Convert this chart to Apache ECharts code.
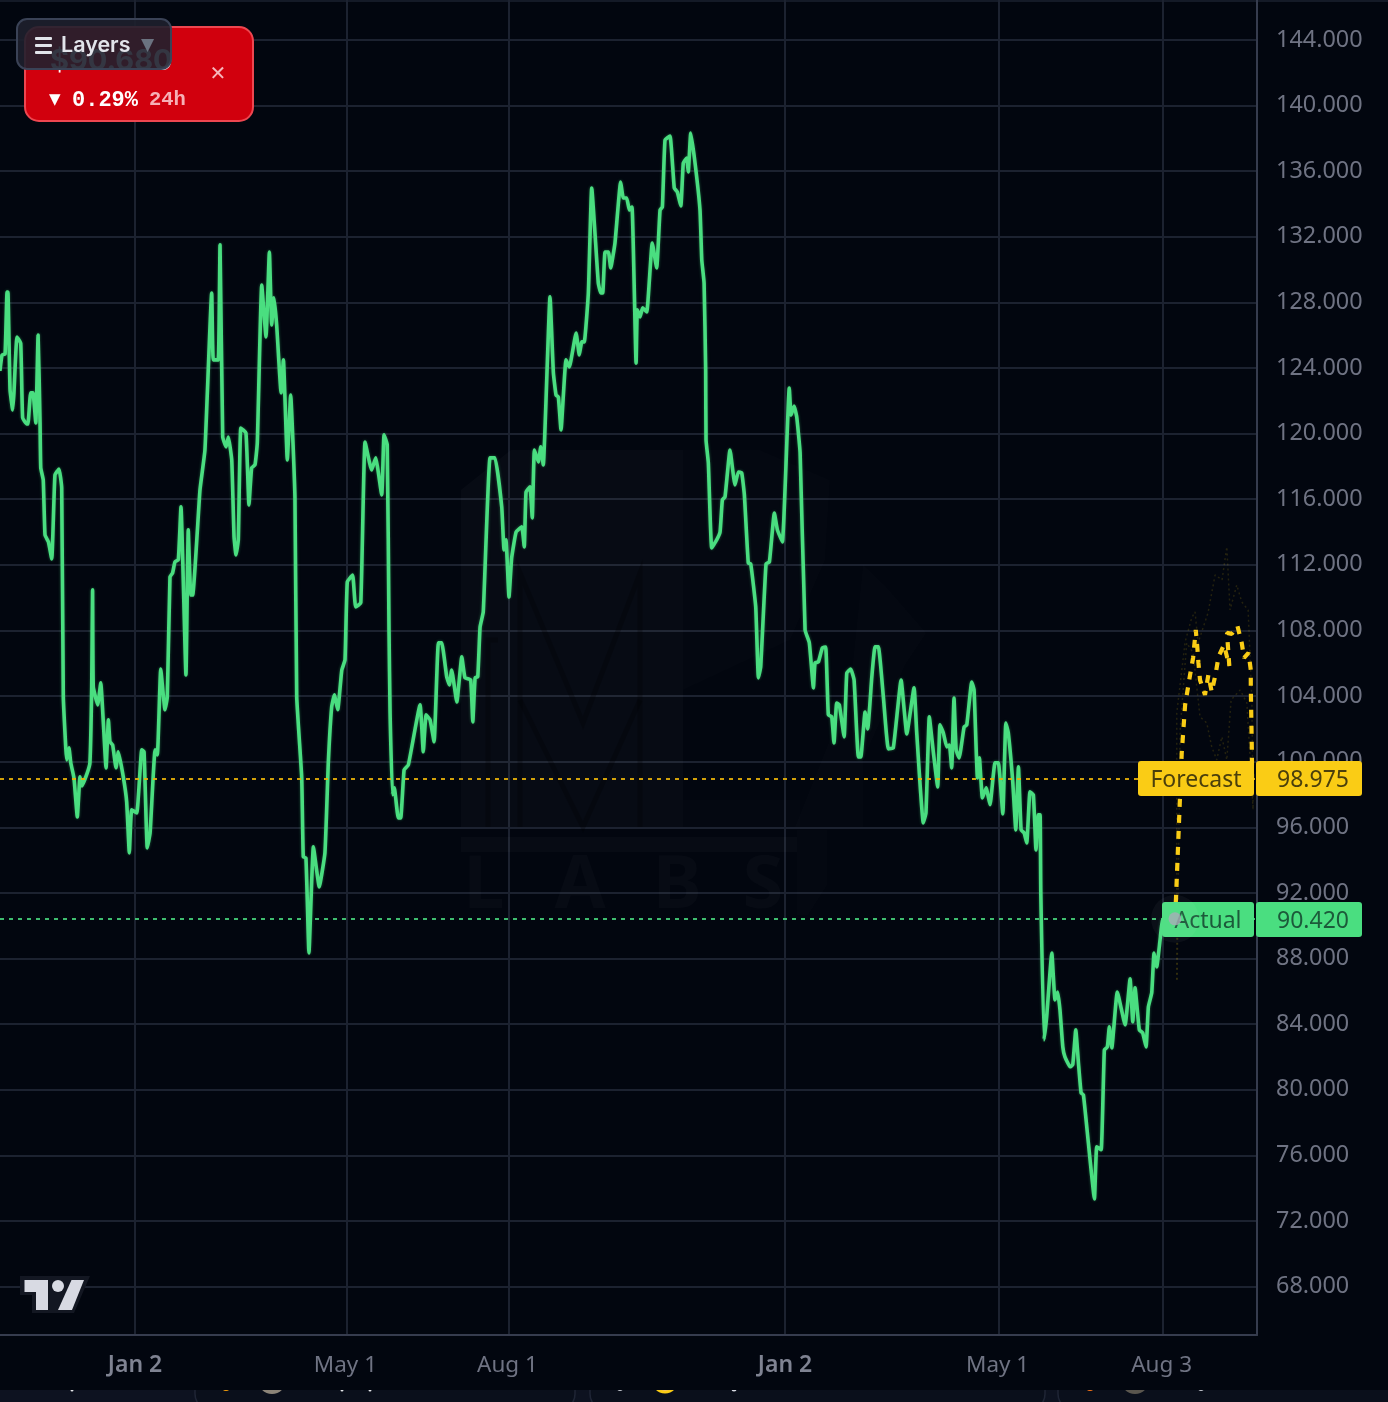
<!DOCTYPE html>
<html><head><meta charset="utf-8">
<style>html,body{margin:0;padding:0;background:#0d1220}#c{width:1388px;height:1402px}
#c canvas:first-child{filter:blur(.7px)}</style>
<script src="https://cdn.jsdelivr.net/npm/echarts@6/dist/echarts.min.js"></script>
</head><body><div id="c"></div>
<script>
// Days are counted from the first "Jan 2" tick.
const actualDays = [-76.1,-74.9,-73.2,-72.1,-71.6,-70.4,-68.9,-68.2,-66.5,-64.4,-63.3,-61,-60.3,-58.8,-57.5,-55.9,-54.6,-53.5,-53.1,-51.7,-50.7,-48.8,-46.9,-45.1,-42.8,-41.3,-40.4,-39,-38.5,-37.2,-36.2,-34.4,-32.5,-31,-29.9,-26.9,-25.4,-24.4,-23.9,-23.5,-21,-19.3,-16.3,-15,-14.1,-12.6,-10.7,-9.4,-6.6,-4.7,-3.2,-1.9,1,3.8,5.1,6.9,8.5,11.3,12.6,14.5,16.9,18.2,19.7,21.2,22.5,24.4,25.9,28.7,30,31.4,32.5,36.6,39.4,43.2,44.1,46.9,47.9,49.4,51.3,52.6,54.5,55.8,56.9,58.2,59.6,62.5,64.2,65.7,67.6,68.9,71.4,73.8,75.7,77,78.3,79.8,82.3,83.6,85.8,87.7,90.1,91.1,93.9,94.8,96.3,98,100.5,103.8,107,108.9,110.8,112.3,114.2,116.5,118.3,119.6,122.6,124.3,127.2,129.6,133.3,135.6,139,140.3,142.1,143.1,143.7,145,146.1,148.3,149.7,151.6,154,160.6,162.4,164,166.2,168.5,170.9,172.8,175.6,177.1,178.4,181.3,184.1,185.9,189.1,190.3,191.6,193.1,194.4,196.2,200,202.8,206.6,207.9,209,210.7,212.2,214.7,217.9,219.3,220.3,222.5,223.8,225,227.2,228.6,230,233.8,235.7,237.2,238.5,240,242.8,244.7,248.5,250.3,251.7,253.1,255.4,257.3,261,262.4,263.5,264.8,266.7,268,270.4,273.6,275.1,277,278.5,280,282.3,283,284.5,286,288.3,291.4,293.9,295.8,297.1,298.6,301.4,303.8,305.5,307.5,308.9,310.8,311.7,313.1,315.5,318.3,319.3,320.6,321.5,321.7,323,324.9,327.7,329.6,330.9,332.4,335.2,338,339.9,341.8,343.3,345.5,346.9,349.7,351.2,352.5,355.5,357.4,360.2,361.9,364.7,368.6,369.6,371.3,372.8,374.7,377.5,379.9,382.2,383.1,385,387.2,389.1,390.6,392.5,393.8,395.3,396.8,399.5,401,403.2,405.1,407.5,408.9,411.3,412.8,415.1,416.9,418.8,421.6,424.4,427.2,431.6,434.8,438.9,440.4,444.1,445.6,447.5,449.8,452.2,453.5,455.4,457.3,458.8,460.1,461.4,462.6,464.3,467.1,468.6,471.4,472.7,474.6,475.7,477.4,479.5,481.7,484.5,486.4,488.9,490.6,492,494.5,496.2,497.7,499.2,500.9,502.4,504.2,506.1,507.6,508.9,509.9,510.3,512.1,513.6,516.5,518.3,519.8,521.1,522.7,523.9,526.8,528.3,530,531.5,533,534.3,537.1,540.5,541.8,544.3,546.1,547.8,548.9,550.3,553.4,557.8,560.6,562.1,563.4,565.8,567.7,569.6,570.9,572.8,574.1,575.6,577.5,579,585.9];
const actualPrices = [123.82,124.79,124.85,128.63,128.63,122.66,121.44,122.48,125.89,125.52,120.95,120.59,120.59,122.48,122.48,120.65,126.01,120.65,117.91,117.17,113.82,113.4,112.36,117.48,117.84,116.69,103.95,100.84,100.11,100.84,99.93,99.01,96.63,99.07,98.52,99.32,99.93,104.56,110.47,104.56,103.46,104.8,99.62,102.55,101.21,101.02,99.62,100.6,99.07,97.55,94.44,97.06,96.88,100.72,100.6,94.74,95.66,100.72,100.41,105.65,103.16,103.95,111.26,111.51,112.18,112.3,115.53,105.29,114.13,110.16,110.16,116.56,119,128.57,124.49,124.49,131.5,119.79,119.19,119.79,118.39,113.7,112.6,113.52,120.34,120.04,115.65,117.91,118.09,119.43,129.06,125.89,131.07,126.62,128.27,126.62,122.48,124.49,118.39,122.35,116.14,103.95,99.07,94.2,94.13,88.34,94.81,92.37,94.44,99.93,103.34,104.07,103.16,105.59,106.2,110.96,111.38,109.43,109.68,119.49,117.78,118.52,116.26,119.92,119.31,108.03,102.97,97.98,98.4,96.57,96.57,99.5,99.8,103.46,100.6,102.85,102.55,101.21,107.24,107.24,105.17,104.68,105.59,103.64,106.39,105.11,104.98,102.42,105.11,105.17,108.21,109.13,118.52,118.52,115.53,112.91,113.52,110.04,112.42,114,114.31,113.09,116.44,116.75,114.86,119,118.27,119.19,118.09,128.33,123.7,122.35,122.23,120.22,124.49,124.06,126.13,124.79,125.59,125.59,128.57,134.97,129.18,128.57,128.57,131.07,131.07,130.1,131.62,135.34,134.36,134.36,133.63,133.81,124.3,127.54,127.11,127.66,127.41,131.62,130.1,133.63,133.81,137.9,138.14,134.97,134.73,133.87,136.5,136.8,135.95,138.32,136.5,133.63,130.58,129.18,123.88,119.61,118.21,113.03,113.52,114,115.96,116.14,119,116.87,117.66,117.6,116.26,112.11,112.05,109.43,105.11,105.78,112.05,112.18,115.16,114.13,113.4,122.78,121.13,121.68,121.01,118.82,108.03,107.24,104.5,106.02,106.08,106.93,106.99,102.85,102.73,101.14,103.58,103.46,101.51,105.41,105.65,104.98,100.29,100.29,103.03,102,105.17,107,107,103.95,100.78,100.84,104.98,101.69,104.5,101.75,96.27,96.88,102.73,100.54,98.46,102.24,101.75,100.9,101.02,99.62,103.88,100.72,100.23,102.12,102.24,104.86,104.37,99.01,100.23,97.79,98.4,97.37,99.93,99.93,96.82,102.36,101.75,98.77,95.84,99.68,95.84,95.66,95.05,98.16,97.98,94.62,96.76,96.76,92,83.04,84.44,88.34,85.48,85.96,84.87,82.61,82.01,81.4,81.52,83.65,81.64,79.81,79.69,76.76,73.35,76.52,76.34,82.43,82.61,83.84,82.55,85.96,83.96,86.76,84.14,86.21,83.65,83.47,82.61,85.05,85.91,88.34,87.49,89.14,90.36,90.42];
const forecastDays = [585.9,586.5,589.7,591.6,594.4,596.1,597.6,598.5,599.1,600,602.8,604.7,606.6,608.9,610.4,613.5,616.5,615.2,617.9,621.1,623.5,624.8,627.3,628.6,628.6,629.2,629.3];
const forecastPrices = [90.42,91.76,100.53,103.46,105.29,106.33,108.03,106.93,106.02,104.98,104.07,105.29,104.25,105.41,106.39,107.12,105.84,107.85,107.79,108.27,107.24,106.33,106.63,105.59,104.56,100.72,98.975];
const upperDays = [586.9,586.9,591.6,595.3,597.2,598.9,604.5,608.5,612.4,615.1,616.9,620.7,623.5,627.1,629.2,629.9];
const upperPrices = [86.7,102.97,107.3,108.76,109.13,107.24,109.07,111.38,111.08,113.09,109.25,110.77,109.74,109.25,103.77,97.06];
const lowerDays = [587.1,588.8,592.5,596.1,600,603.8,606.6,609.4,612.3,615.1,617.5,622.6,626.4,629.9];
const lowerPrices = [86.7,101.94,107.24,106.63,102.73,102.36,100.9,100.11,101.51,100.11,103.77,104.37,103.58,97.06];
const priceTicks = [68,72,76,80,84,88,92,96,100,104,108,112,116,120,124,128,132,136,140,144];
const dateTicks = [0,119.4,210.7,366.2,486.8,579.2];
const dateLabels = ['Jan 2','May 1','Aug 1','Jan 2','May 1','Aug 3'];
const lastActual = 90.42, lastForecast = 98.975;
const pairs = (a,b)=>a.map((v,i)=>[v,b[i]]);

const FONT='"Noto Sans",sans-serif', UI='Inter,sans-serif';
const BG='#02060f', GRID='#1c2230', AXIS='#363c4e', LABEL='#6f7383';
const GREEN='#4ade80', YELLOW='#facc15';

const chart = echarts.init(document.getElementById('c'),null,{renderer:'canvas',width:1388,height:1402});
chart.setOption({
  animation:false, backgroundColor:BG,
  grid:{left:0,top:0,width:1257,height:1335,containLabel:false},
  xAxis:{type:'value',min:-76.06,max:632.1,
    axisLine:{show:true,onZero:false,lineStyle:{color:AXIS,width:2}},
    axisTick:{show:false,customValues:dateTicks},
    splitLine:{show:true,lineStyle:{color:GRID,width:2}},
    axisLabel:{customValues:dateTicks,margin:19,showMinLabel:true,showMaxLabel:true,
      formatter:(v)=>{const i=dateTicks.indexOf(v);const t=dateLabels[i];return t==='Jan 2'?'{b|'+t+'}':'{n|'+t+'}';},
      rich:{b:{fontFamily:FONT,fontSize:23,fontWeight:600,color:'#7f8392'},n:{fontFamily:FONT,fontSize:22.5,color:LABEL,padding:[0,3,0,0]}}}},
  yAxis:{type:'value',position:'right',min:65.05,max:146.43,
    axisLine:{show:true,onZero:false,lineStyle:{color:AXIS,width:2}},
    axisTick:{show:false,customValues:priceTicks},
    splitLine:{show:true,lineStyle:{color:GRID,width:2}},
    axisLabel:{customValues:priceTicks,margin:19,align:'left',color:LABEL,fontFamily:FONT,fontSize:23.4,padding:[3,0,0,0],
      formatter:v=>v.toFixed(3)}},
  series:[
    {name:'Upper',type:'line',z:1,silent:true,showSymbol:false,data:pairs(upperDays,upperPrices),
      lineStyle:{color:'rgba(250,204,21,.14)',width:1.5,type:[2,3]}},
    {name:'Lower',type:'line',z:1,silent:true,showSymbol:false,data:pairs(lowerDays,lowerPrices),
      lineStyle:{color:'rgba(250,204,21,.14)',width:1.5,type:[2,3]}},
    {name:'Actual',type:'line',z:3,showSymbol:false,smooth:0.12,data:pairs(actualDays,actualPrices),
      lineStyle:{color:GREEN,width:3.6,shadowColor:'rgba(74,222,128,.4)',shadowBlur:3,join:'round'},
      markLine:{silent:true,symbol:'none',label:{show:false},lineStyle:{color:GREEN,opacity:.85,width:2,type:[4,5]},data:[{yAxis:lastActual}]}},
    {name:'Forecast',type:'line',z:4,showSymbol:false,data:pairs(forecastDays,forecastPrices),
      lineStyle:{color:YELLOW,width:4.2,type:[8,8]},
      markLine:{silent:true,symbol:'none',label:{show:false},lineStyle:{color:'#eab308',opacity:.9,width:2,type:[4,5]},data:[{yAxis:lastForecast}]}},
    {name:'Halo',type:'scatter',z:19,silent:true,symbolSize:48,itemStyle:{color:'rgba(255,255,255,.05)'},data:[[actualDays[actualDays.length-1],lastActual]]},
    {name:'Last',type:'scatter',z:20,silent:true,symbolSize:13,itemStyle:{color:'#a9acb8'},data:[[actualDays[actualDays.length-1],lastActual]]}
  ]
});
const yOf = v => chart.convertToPixel({yAxisIndex:0},v);
function tag(x0,name,value,fill,ink){
  const y=Math.round(yOf(value))-17;
  return [
   {type:'rect',z:10,shape:{x:x0,y,width:1254-x0,height:35,r:3},style:{fill}},
   {type:'rect',z:10,shape:{x:1256,y,width:106,height:35,r:3},style:{fill}},
   {type:'text',z:11,style:{x:(x0+1254)/2,y:y+19,text:name,align:'center',verticalAlign:'middle',fontFamily:FONT,fontSize:23,fill:ink}},
   {type:'text',z:11,style:{x:1349,y:y+19,text:value.toFixed(3),align:'right',verticalAlign:'middle',fontFamily:FONT,fontSize:23,fill:ink}}
  ];
}
const strip=[
 {type:'rect',z:-3,shape:{x:195,y:1350,width:380,height:60,r:16},style:{fill:'#0a0f1b',stroke:'#1f2535',lineWidth:1.5}},
 {type:'rect',z:-3,shape:{x:590,y:1350,width:455,height:60,r:16},style:{fill:'#0a0f1b',stroke:'#1f2535',lineWidth:1.5}},
 {type:'rect',z:-3,shape:{x:1058,y:1350,width:340,height:60,r:16},style:{fill:'#0a0f1b',stroke:'#1f2535',lineWidth:1.5}}
];
const bits=[
 {type:'circle',z:-2,shape:{cx:272,cy:1380,r:14},style:{fill:'#8c8478'}},
 {type:'circle',z:-2,shape:{cx:226,cy:1387,r:4},style:{fill:'#f59e0b'}},
 {type:'circle',z:-2,shape:{cx:665,cy:1380,r:12},style:{fill:'#f0a8c8',stroke:'#facc15',lineWidth:3}},
 {type:'circle',z:-2,shape:{cx:620,cy:1388,r:3},style:{fill:'#c8ccd4'}},
 {type:'circle',z:-2,shape:{cx:734,cy:1389,r:2.5},style:{fill:'#d8dae3'}},
 {type:'circle',z:-2,shape:{cx:1135,cy:1380,r:14},style:{fill:'#5a564e'}},
 {type:'circle',z:-2,shape:{cx:1090,cy:1387,r:4},style:{fill:'#f97316'}},
 {type:'circle',z:-2,shape:{cx:1201,cy:1388,r:3},style:{fill:'#c8ccd4'}},
 {type:'circle',z:-2,shape:{cx:72,cy:1390,r:1.5},style:{fill:'#e5e7eb'}},
 {type:'circle',z:-2,shape:{cx:342,cy:1390,r:1.5},style:{fill:'#e5e7eb'}},
 {type:'circle',z:-2,shape:{cx:370,cy:1390,r:1.5},style:{fill:'#e5e7eb'}}
];
const panel=[
 {type:'rect',z:-4,shape:{x:0,y:1390,width:1388,height:12},style:{fill:'#0d1220'}},
 {type:'rect',z:-1,shape:{x:0,y:1336,width:1388,height:54},style:{fill:BG}},
 {type:'rect',z:-1,shape:{x:0,y:0,width:1388,height:2},style:{fill:'#141a27'}}
];
const WM='rgba(255,255,255,.024)', WM2='rgba(255,255,255,.012)', WMD='rgba(0,0,0,.24)';
const line=(pts)=>({type:'polyline',z:0,shape:{points:pts},style:{stroke:WMD,fill:'none',lineWidth:5}});
const watermark=[
 {type:'polygon',z:0,shape:{points:[[461,490],[511,450],[683,450],[683,827],[461,827]]},style:{fill:WM}},
 {type:'polygon',z:0,shape:{points:[[683,450],[760,450],[830,480],[825,560],[790,640],[683,690]]},style:{fill:WM2}},
 {type:'polygon',z:0,shape:{points:[[683,800],[800,800],[800,827],[683,827]]},style:{fill:WM2}},
 {type:'polygon',z:0,shape:{points:[[863,565],[886,587],[926,633],[905,665],[863,760],[863,827],[795,827],[850,690]]},style:{fill:WM2}},
 line([[520,827],[520,573],[583,723],[640,573],[640,827]]),
 line([[488,827],[488,640],[498,640]]),
 line([[520,700],[583,827],[640,700]]),
 {type:'rect',z:0,shape:{x:461,y:837,width:336,height:15},style:{fill:WM}},
 {type:'polygon',z:0,shape:{points:[[797,830],[827,830],[827,885],[808,915],[797,915]]},style:{fill:WM2}},
 {type:'text',z:0,style:{x:484,y:887,text:'L',align:'center',verticalAlign:'middle',fontFamily:FONT,fontWeight:700,fontSize:74,fill:WM}},
 {type:'text',z:0,style:{x:580,y:887,text:'A',align:'center',verticalAlign:'middle',fontFamily:FONT,fontWeight:700,fontSize:74,fill:WM}},
 {type:'text',z:0,style:{x:677,y:887,text:'B',align:'center',verticalAlign:'middle',fontFamily:FONT,fontWeight:700,fontSize:74,fill:WM}},
 {type:'text',z:0,style:{x:763,y:887,text:'S',align:'center',verticalAlign:'middle',fontFamily:FONT,fontWeight:700,fontSize:74,fill:WM}}
];
const logo=[
 {type:'polygon',z:5,shape:{points:[[20,1276],[90,1276],[74,1313],[32,1313],[32,1295],[20,1295]]},style:{fill:'#131722'}},
 {type:'polygon',z:6,shape:{points:[[24.5,1280],[48,1280],[48,1310],[36,1310],[36,1292],[24.5,1292]]},style:{fill:'#d8dae3'}},
 {type:'circle',z:6,shape:{cx:58,cy:1286,r:6},style:{fill:'#d8dae3'}},
 {type:'polygon',z:6,shape:{points:[[71.5,1280],[84,1280],[72,1310],[58,1310]]},style:{fill:'#d8dae3'}}
];
const bar=(y)=>({type:'rect',zlevel:1,z:33,shape:{x:35,y,width:17,height:3,r:1},style:{fill:'#e2e4ea'}});
const card=[
 {type:'rect',zlevel:1,z:30,shape:{x:25,y:27,width:228,height:94,r:14},style:{fill:'#d1000d',stroke:'#ee4650',lineWidth:2}},
 {type:'text',zlevel:1,z:31,style:{x:50,y:61,text:'$90.680',verticalAlign:'middle',fontFamily:UI,fontWeight:700,fontSize:29,fill:'#ffffff'}},
 {type:'text',zlevel:1,z:31,style:{x:218,y:75,text:'✕',align:'center',verticalAlign:'middle',fontFamily:'"DejaVu Sans"',fontSize:20,fill:'#f6b6bb'}},
 {type:'text',zlevel:1,z:31,style:{x:49,y:100,text:'▼',verticalAlign:'middle',fontFamily:'"DejaVu Sans"',fontSize:15,fill:'#ffffff'}},
 {type:'text',zlevel:1,z:31,style:{x:72,y:100,text:'0.29%',verticalAlign:'middle',fontFamily:'"Liberation Mono",monospace',fontWeight:700,fontSize:22,fill:'#ffffff'}},
 {type:'text',zlevel:1,z:31,style:{x:149,y:100,text:'24h',verticalAlign:'middle',fontFamily:'"Liberation Mono",monospace',fontWeight:700,fontSize:20.5,fill:'#f6b0b6'}},
 {type:'rect',zlevel:1,z:32,shape:{x:17,y:19,width:154,height:50,r:10},style:{fill:'rgba(30,32,46,.9)',stroke:'#3a4256',lineWidth:2}},
 bar(37),bar(44),bar(51),
 {type:'text',zlevel:1,z:33,style:{x:61,y:45.5,text:'Layers',verticalAlign:'middle',fontFamily:UI,fontWeight:600,fontSize:21.5,fill:'#e2e4ea'}},
 {type:'text',zlevel:1,z:33,style:{x:141,y:46,text:'▼',verticalAlign:'middle',fontFamily:'"DejaVu Sans"',fontSize:17,fill:'#6b7280'}}
];
chart.setOption({graphic:{elements:[...panel,...strip,...bits,...watermark,...logo,
  ...tag(1138,'Forecast',lastForecast,YELLOW,'#4a3f0c'),
  ...tag(1162,'Actual',lastActual,GREEN,'#1c5a3a'),
  ...card]}});
</script></body></html>
